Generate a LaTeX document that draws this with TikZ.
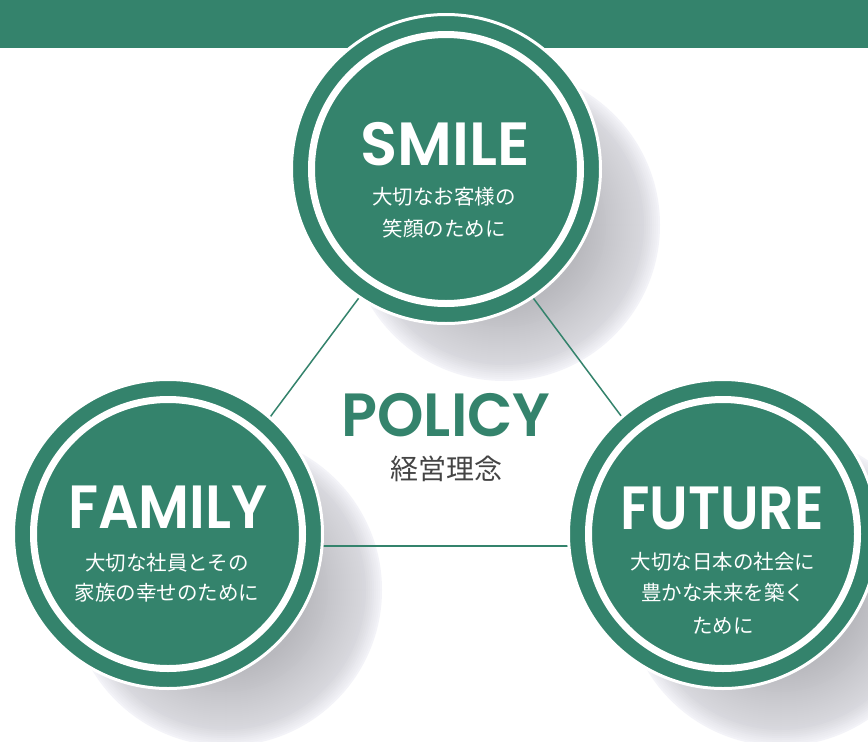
\documentclass[tikz,border=0pt]{standalone}
\usepackage{fontspec}
\newfontfamily\popfont{Poppins}[UprightFont=* SemiBold]
\newfontfamily\jpfont{Noto Sans CJK JP}
\definecolor{pgreen}{RGB}{52,131,108}
\definecolor{pgray}{RGB}{68,68,68}
\begin{document}
\begin{tikzpicture}[x=1pt,y=-1pt,
  pcircle/.style={circle, fill=pgreen, draw=white, line width=3pt, minimum size=309pt, inner sep=0pt,
    path picture={\draw[white, line width=7pt] (path picture bounding box.center) circle (134.5);}},
  pics/shadowdisk/.style={code={
    \foreach \r in {156,154,...,70} {
      \pgfmathsetmacro\p{\r>140 ? 3+(156-\r)*0.65 : min(26,13.4+(140-\r)*0.21)}
      \fill[black!\p!white!98!blue] (0,0) circle (\r);
    }}},
  link/.style={draw=pgreen, line width=1.5pt},
  title/.style={text=white, font=\popfont\fontsize{61}{61}\selectfont, anchor=base, inner sep=0pt},
  sub/.style={text=white, font=\jpfont\fontsize{20.5}{20.5}\selectfont, anchor=base, inner sep=0pt}]
\clip (0,0) rectangle (868,742);
\useasboundingbox (0,0) rectangle (868,742);
\fill[white] (0,0) rectangle (868,742);
% top band
\fill[pgreen] (0,0) rectangle (868,48);
% shadows
\pic at (504,225) {shadowdisk};
\pic at (226,590) {shadowdisk};
\pic at (781,590) {shadowdisk};
% triangle
\coordinate (tA) at (446,181);
\coordinate (tB) at (174,546);
\coordinate (tC) at (718,546);
\draw[link] (tA) -- (tB);
\draw[link] (tA) -- (tC);
\draw[link] (tB) -- (tC);
% circles
\node[pcircle] (smile) at (446,169) {};
\node[pcircle] (family) at (168,534) {};
\node[pcircle] (future) at (723,534) {};
% texts
\node[title] (smileT) at (445,165) {SMILE};
\node[sub] (smile1) at (444,204.6) {大切なお客様の};
\node[sub] (smile2) at (444,236.6) {笑顔のために};
\node[title] (familyT) at (168,528) {\scalebox{0.93}[1]{FAMILY}};
\node[sub] (family1) at (167,570.6) {大切な社員とその};
\node[sub] (family2) at (167,600.6) {家族の幸せのために};
\node[title] (futureT) at (722,529) {\scalebox{0.91}[1]{FUTURE}};
\node[sub] (future1) at (723,569.6) {大切な日本の社会に};
\node[sub] (future2) at (723,600.6) {豊かな未来を築く};
\node[sub] (future3) at (723,633) {ために};
\node[title, text=pgreen, text height=44pt, text depth=0pt] (policy) at (446,436) {\scalebox{0.97}[1]{POLICY}};
\node[anchor=base, inner sep=0pt, text=pgray, text height=22pt, text depth=2pt, font=\jpfont\fontsize{28}{28}\selectfont] (policyJ) at (446,479) {経営理念};
\end{tikzpicture}
\end{document}
